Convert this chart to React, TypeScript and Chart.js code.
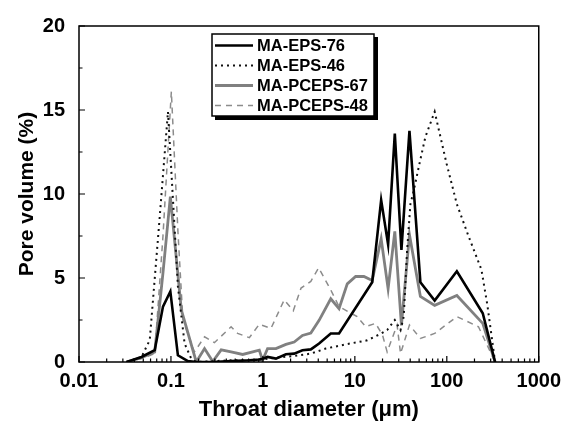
import React, { useEffect, useRef } from 'react';
import { Chart, registerables } from 'chart.js';

Chart.register(...registerables);

const seriesLabels = ['MA-EPS-76', 'MA-EPS-46', 'MA-PCEPS-67', 'MA-PCEPS-48'];

const eps76X = [0.0329, 0.0478, 0.0666, 0.0819, 0.0985, 0.119, 0.1528, 0.1885, 0.285, 0.451, 0.712, 0.914, 0.993, 1.124, 1.386, 1.78, 2.189, 2.692, 3.32, 4.085, 5.47, 6.73, 15.44, 19.32, 23.0, 27.2, 32.1, 39.25, 51.6, 73.8, 128.6, 246, 335];
const eps76Y = [0, 0.3, 0.7, 3.3, 4.2, 0.4, 0.05, 0, 0, 0.05, 0.1, 0.15, 0.2, 0.3, 0.2, 0.46, 0.5, 0.7, 0.75, 1.1, 1.7, 1.7, 4.75, 9.64, 7.0, 13.6, 6.67, 13.76, 4.75, 3.66, 5.4, 2.9, 0];

const eps46X = [0.0329, 0.0478, 0.0588, 0.0754, 0.0928, 0.119, 0.1407, 0.1663, 0.1885, 0.285, 0.451, 0.712, 0.993, 1.635, 2.098, 3.32, 4.83, 7.95, 13.63, 19.32, 22.44, 27.2, 31.4, 34.0, 36.95, 40.2, 43.7, 49.5, 58.5, 73.8, 99.5, 128.6, 172, 238, 276, 335];
const eps46Y = [0, 0.3, 1.3, 8.6, 14.9, 4.5, 1.1, 0.2, 0, 0.05, 0.1, 0.1, 0.15, 0.3, 0.34, 0.5, 0.8, 1.05, 1.29, 1.69, 1.9, 2.5, 1.9, 2.7, 6.6, 9.4, 10.2, 11.6, 13.4, 14.9, 11.8, 9.4, 7.5, 5.5, 3.4, 0];

const pceps67X = [0.0329, 0.0478, 0.0666, 0.0819, 0.0985, 0.1297, 0.1885, 0.2318, 0.285, 0.3516, 0.451, 0.603, 0.914, 0.993, 1.124, 1.386, 1.78, 2.189, 2.692, 3.32, 4.085, 5.47, 6.73, 8.27, 10.2, 12.55, 15.44, 19.32, 23.0, 27.2, 32.1, 39.25, 51.6, 73.8, 128.6, 246, 335];
const pceps67Y = [0, 0.26, 0.6, 5.3, 9.85, 3.1, 0, 0.8, 0.03, 0.72, 0.6, 0.45, 0.7, 0.1, 0.8, 0.8, 1.05, 1.19, 1.58, 1.72, 2.48, 3.76, 3.17, 4.65, 5.09, 5.09, 4.85, 7.33, 4.36, 7.78, 2.18, 7.58, 3.9, 3.37, 3.96, 2.3, 0];

const pceps48X = [0.0329, 0.0478, 0.0666, 0.0819, 0.101, 0.119, 0.135, 0.18, 0.232, 0.297, 0.451, 0.532, 0.712, 0.914, 1.224, 1.706, 2.14, 2.6, 3.32, 4.04, 5.4, 6.73, 10.6, 13.09, 16.81, 20.0, 22.44, 28.8, 31.4, 39.25, 51.6, 73.8, 128.6, 221, 335];
const pceps48Y = [0, 0.2, 0.5, 7.5, 16.1, 7.8, 2.5, 0.6, 1.5, 1.15, 2.1, 1.7, 1.45, 2.25, 2.0, 3.7, 3.05, 4.4, 4.8, 5.6, 4.35, 3.3, 2.7, 2.1, 2.3, 1.6, 0.6, 2.2, 0.5, 2.2, 1.4, 1.7, 2.7, 2.1, 0];

const xTickValues = [0.01, 0.1, 1, 10, 100, 1000];
const xTickLabels = ['0.01', '0.1', '1', '10', '100', '1000'];
const yTickValues = [0, 5, 10, 15, 20];

const FONT = '"Liberation Sans", Arial, Helvetica, sans-serif';

const toPoints = (xs: number[], ys: number[]) => xs.map((x, i) => ({ x, y: ys[i] }));

const framePlugin = {
  id: 'frameTicksLegend',
  afterDraw(chart: any) {
    const { ctx, chartArea } = chart;
    const { left, right, top, bottom } = chartArea;
    const xs = chart.scales.x;
    const ys = chart.scales.y;
    ctx.save();
    ctx.strokeStyle = '#000';
    ctx.lineWidth = 1.5;
    ctx.setLineDash([]);
    ctx.strokeRect(left, top, right - left, bottom - top);

    ctx.lineWidth = 1.2;
    ctx.beginPath();
    for (let e = -2; e <= 3; e++) {
      for (let m = 1; m <= 9; m++) {
        const v = m * Math.pow(10, e);
        if (v > 1000.0001) break;
        const px = xs.getPixelForValue(v);
        const len = m === 1 ? 6 : 3.5;
        ctx.moveTo(px, bottom);
        ctx.lineTo(px, bottom - len);
      }
    }
    for (let v = 0; v <= 20; v += 2.5) {
      const py = ys.getPixelForValue(v);
      const len = v % 5 === 0 ? 6 : 3.5;
      ctx.moveTo(left, py);
      ctx.lineTo(left + len, py);
    }
    ctx.stroke();

    // legend
    const bx = left + 133;
    const by = top + 8;
    const bw = 162;
    const bh = 82;
    ctx.fillStyle = '#fff';
    ctx.fillRect(bx, by, bw, bh);
    ctx.fillStyle = '#000';
    ctx.fillRect(bx + bw, by + 3, 4, bh + 1);
    ctx.fillRect(bx + 3, by + bh, bw + 1, 4);
    ctx.lineWidth = 1.5;
    ctx.strokeStyle = '#000';
    ctx.strokeRect(bx, by, bw, bh);

    chart.data.datasets.forEach((ds: any, i: number) => {
      const ly = by + 11.5 + i * 20;
      ctx.save();
      ctx.strokeStyle = ds.borderColor;
      ctx.lineWidth = ds.borderWidth;
      ctx.setLineDash(ds.borderDash || []);
      ctx.lineCap = ds.borderCapStyle || 'butt';
      ctx.beginPath();
      ctx.moveTo(bx + 3, ly);
      ctx.lineTo(bx + 41, ly);
      ctx.stroke();
      ctx.restore();
      ctx.fillStyle = '#000';
      ctx.font = `bold 16.5px ${FONT}`;
      ctx.textBaseline = 'middle';
      ctx.textAlign = 'left';
      ctx.fillText(ds.label, bx + 45, ly + 1);
    });
    ctx.restore();
  },
};

export default function App() {
  const ref = useRef<HTMLCanvasElement | null>(null);

  useEffect(() => {
    if (!ref.current) return;
    const chart = new Chart(ref.current, {
      type: 'line',
      data: {
        datasets: [
          {
            label: seriesLabels[0],
            data: toPoints(eps76X, eps76Y),
            borderColor: '#000000',
            borderWidth: 2.6,
            pointRadius: 0,
            tension: 0,
          },
          {
            label: seriesLabels[1],
            data: toPoints(eps46X, eps46Y),
            borderColor: '#111111',
            borderWidth: 2,
            borderDash: [2, 4],
            pointRadius: 0,
            tension: 0,
          },
          {
            label: seriesLabels[2],
            data: toPoints(pceps67X, pceps67Y),
            borderColor: '#808080',
            borderWidth: 2.8,
            pointRadius: 0,
            tension: 0,
          },
          {
            label: seriesLabels[3],
            data: toPoints(pceps48X, pceps48Y),
            borderColor: '#8c8c8c',
            borderWidth: 1.5,
            borderDash: [6, 5],
            pointRadius: 0,
            tension: 0,
          },
        ],
      },
      options: {
        responsive: false,
        animation: false,
        events: [],
        layout: { padding: { left: 0, top: 24, right: 27, bottom: 0 } },
        plugins: {
          legend: { display: false },
          tooltip: { enabled: false },
        },
        scales: {
          x: {
            type: 'logarithmic',
            min: 0.01,
            max: 1000,
            afterFit: (s: any) => {
              s.height = 66;
            },
            afterBuildTicks: (s: any) => {
              s.ticks = xTickValues.map((v) => ({ value: v }));
            },
            grid: { display: false, drawTicks: false },
            border: { display: false },
            ticks: {
              autoSkip: false,
              maxRotation: 0,
              padding: 7,
              color: '#000',
              font: { family: FONT, size: 20, weight: 'bold' },
              callback: (v: any) => {
                const idx = xTickValues.findIndex((t) => Math.abs(t - Number(v)) / t < 1e-6);
                return idx >= 0 ? xTickLabels[idx] : '';
              },
            },
            title: {
              display: true,
              text: 'Throat diameter (μm)',
              color: '#000',
              font: { family: FONT, size: 22, weight: 'bold' },
              padding: { top: 0, bottom: 5 },
            },
          },
          y: {
            min: 0,
            max: 20,
            afterFit: (s: any) => {
              s.width = 79;
            },
            afterBuildTicks: (s: any) => {
              s.ticks = yTickValues.map((v) => ({ value: v }));
            },
            grid: { display: false, drawTicks: false },
            border: { display: false },
            ticks: {
              padding: 14,
              color: '#000',
              font: { family: FONT, size: 20, weight: 'bold' },
            },
            title: {
              display: true,
              text: 'Pore volume (%)',
              color: '#000',
              font: { family: FONT, size: 21, weight: 'bold' },
              padding: { top: 15, bottom: 0 },
            },
          },
        },
      },
      plugins: [framePlugin],
    });
    return () => chart.destroy();
  }, []);

  return (
    <div style={{ position: 'fixed', left: 0, top: 0, width: 568, height: 428, background: '#fff' }}>
      <canvas ref={ref} width={568} height={428} />
    </div>
  );
}
